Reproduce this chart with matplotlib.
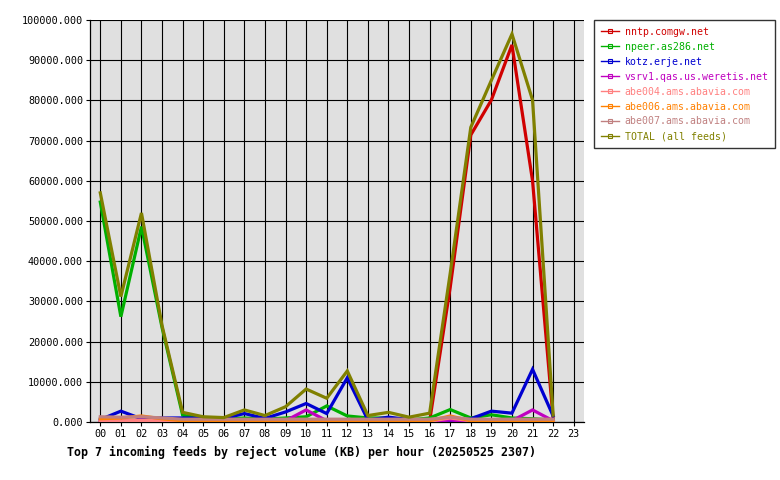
import numpy as np
import matplotlib
matplotlib.use("Agg")
import matplotlib.pyplot as plt
from matplotlib.lines import Line2D

plt.rcParams['font.family'] = ['DejaVu Sans Mono']

# hours shown on the x axis
hours = ["%02d" % h for h in range(24)]

# reject volume (KB) per hour, hours 00..22
nntp = [0, 0, 0, 0, 0, 0, 0, 0, 0, 0, 0, 0, 0, 0, 0, 0, 200,
        33500, 71400, 80100, 93800, 60000, 800]
npeer = [54700, 26200, 48600, 23500, 1700, 800, 700, 1000, 700, 1000, 1300, 4000,
         1500, 1000, 1000, 500, 1000, 3100, 1000, 1800, 1000, 800, 500]
kotz = [600, 2700, 800, 1000, 1000, 1000, 900, 2100, 900, 2500, 4600, 2100,
        11000, 500, 1200, 600, 600, 300, 800, 2700, 2200, 13100, 1500]
vsrv1 = [300, 200, 500, 200, 100, 100, 100, 200, 100, 300, 3000, 300,
         100, 100, 100, 100, 100, 500, 100, 0, 300, 3000, 300]
abe004 = [300, 300, 400, 300, 200, 200, 200, 200, 200, 200, 200, 200,
          200, 200, 200, 200, 200, 1000, 300, 200, 200, 200, 200]
abe006 = [800, 1000, 1500, 800, 300, 300, 300, 300, 300, 300, 300, 300,
          300, 300, 300, 300, 300, 1500, 300, 300, 300, 300, 300]
abe007 = [1300, 1200, 1300, 1000, 700, 700, 700, 700, 700, 700, 700, 700,
          700, 700, 700, 700, 700, 1200, 700, 700, 700, 700, 700]
total = [57000, 31200, 52000, 24000, 2400, 1300, 1100, 3000, 1600, 3800, 8200, 5900,
         12700, 1600, 2400, 1200, 2200, 37000, 73300, 85000, 96500, 80100, 1700]

names = ["nntp.comgw.net", "npeer.as286.net", "kotz.erje.net",
         "vsrv1.qas.us.weretis.net", "abe004.ams.abavia.com",
         "abe006.ams.abavia.com", "abe007.ams.abavia.com", "TOTAL (all feeds)"]
series = [nntp, npeer, kotz, vsrv1, abe004, abe006, abe007, total]
colors = ["#d00000", "#00b000", "#0000d0", "#c000c0", "#ff8080",
          "#ff8000", "#c08080", "#808000"]

W, H = 780, 480
fig = plt.figure(figsize=(7.8, 4.8), dpi=100)
ax = fig.add_axes([90 / W, (H - 422) / H, 494 / W, 402 / H])
ax.set_facecolor("#e0e0e0")

x = np.arange(len(total))
for vals, c in zip(series, colors):
    ax.plot(x, vals, color=c, lw=2.3, solid_joinstyle='miter', zorder=3)

ax.set_xlim(-0.5, 23.5)
ax.set_ylim(0, 100000)
ax.set_xticks(range(24))
ax.set_xticklabels(hours)
ax.set_yticks(np.arange(0, 100001, 10000))
ax.set_yticklabels(["%.3f" % v for v in np.arange(0, 100001, 10000)])
ax.grid(True, color="black", lw=0.8)
ax.set_axisbelow(True)
ax.tick_params(length=3, width=0.8, labelsize=7.3, pad=2)
for s in ax.spines.values():
    s.set_visible(False)
ax.spines['left'].set_visible(True)
ax.spines['bottom'].set_visible(True)
ax.spines['left'].set_linewidth(0.9)
ax.spines['bottom'].set_linewidth(0.9)

fig.text(67 / W, 1 - 452 / H,
         "Top 7 incoming feeds by reject volume (KB) per hour (20250525 2307)",
         fontsize=8.35, fontweight='bold', va='center', ha='left')

handles = [Line2D([0], [0], color=c, lw=1, marker='s', ms=2.5,
                  markerfacecolor='none', markeredgewidth=0.8) for c in colors]
leg = fig.legend(handles, names, loc='upper left',
                 bbox_to_anchor=(594 / W, 1 - 20 / H), borderaxespad=0,
                 fontsize=7.1, labelcolor=colors, frameon=True, fancybox=False,
                 edgecolor='black', handlelength=1.8, handletextpad=0.6,
                 labelspacing=0.5, borderpad=0.7)
leg.get_frame().set_linewidth(1.0)

fig.savefig("out.png", dpi=100)
